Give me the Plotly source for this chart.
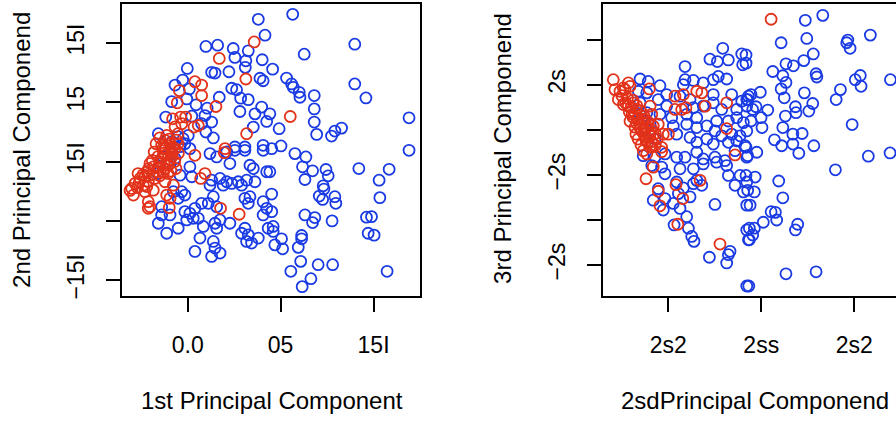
import plotly.graph_objects as go

# ---- Panel 1: 1st vs 2nd principal component ----
left_blue_x = [0.380, 0.416, 0.098, 0.161, 0.245, 0.326, 0.254, 0.313, 0.401, -0.002, 0.129, 0.147, 0.222, 0.310,
               0.389, 0.406, -0.027, -0.068, 0.009, 0.237, 0.263, 0.285, 0.326, 0.170, -0.086, -0.005, 0.045, 0.105,
               0.093, 0.022, 0.281, 0.362, 0.398, 0.425, -0.118, 0.129, 0.075, 0.353, -0.158, 0.003, 0.098, 0.138,
               0.254, 0.308, 0.406, -0.024, -0.052, -0.015, -0.041, -0.084, 0.012, -0.133, -0.095, -0.160, -0.068,
               0.120, 0.156, 0.210, 0.254, 0.308, 0.406, 0.227, 0.335, 0.353, 0.425, 0.012, -0.041, 0.022, 0.129,
               0.174, 0.210, 0.272, 0.317, 0.362, 0.120, 0.191, 0.237, 0.290, -0.032, -0.015, -0.051, -0.077, 0.138,
               0.111, 0.156, 0.075, 0.308, 0.335, 0.326, 0.406, 0.425, 0.406, 0.433, -0.140, -0.140, -0.095, -0.158,
               -0.113, -0.051, -0.015, 0.012, 0.039, 0.057, -0.005, 0.030, 0.084, 0.147, 0.174, 0.227, 0.156, 0.066,
               0.039, 0.138, 0.147, 0.174, 0.129, 0.308, 0.326, 0.380, 0.344, 0.317, 0.290,
               0.565, 0.899, 0.627, 0.457, 0.532, 0.559, 0.568, 0.600, 0.604, 0.681, 0.899, 0.959, 0.681, 0.681,
               0.694, 0.442, 0.492, 0.774, 0.792, 0.828, 1.191, 1.191, 0.502, 0.452, 0.577, 0.636, 0.618, 0.672,
               0.631, 0.744, 0.756, 0.729, 0.733, 0.708, 0.726, 0.792, 0.797, 0.921, 1.084, 1.030, 1.034, 0.442,
               0.452, 0.631, 0.684, 0.672, 0.777, 0.962, 0.989, 0.971, 1.003, 0.452, 0.460, 0.460, 0.505, 0.469,
               0.511, 0.613, 0.613, 0.595, 0.608, 0.555, 0.702, 0.780, 0.663, 0.616, 1.073]
left_blue_y = [1.199, 1.065, 0.970, 0.981, 0.953, 0.933, 0.878, 0.849, 0.858, 0.785, 0.752, 0.746, 0.757, 0.794,
               0.702, 0.681, 0.687, 0.645, 0.612, 0.618, 0.606, 0.534, 0.522, 0.542, 0.505, 0.528, 0.478, 0.450,
               0.388, 0.383, 0.422, 0.402, 0.459, 0.338, 0.375, 0.333, 0.319, 0.291, 0.235, 0.220, 0.249, 0.199,
               0.123, 0.123, 0.137, 0.193, 0.210, 0.151, 0.126, 0.168, 0.109, 0.042, -0.017, -0.101, 0.025,
               0.067, 0.039, 0.081, 0.095, 0.095, 0.095, -0.017, -0.031, -0.059, -0.086, -0.044, -0.115, -0.128,
               -0.157, -0.142, -0.170, -0.170, -0.157, -0.170, -0.199, -0.199, -0.184, -0.199, -0.254, -0.282,
               -0.310, -0.254, -0.296, -0.352, -0.380, -0.352, -0.310, -0.296, -0.352, -0.338, -0.394, -0.450,
               -0.562, -0.380, -0.450, -0.450, -0.520, -0.604, -0.562, -0.422, -0.436, -0.394, -0.478, -0.492,
               -0.478, -0.547, -0.520, -0.492, -0.520, -0.562, -0.645, -0.757, -0.673, -0.729, -0.771, -0.799,
               -0.562, -0.618, -0.645, -0.687, -0.673, -0.604,
               1.241, 0.989, 0.905, 0.779, 0.704, 0.654, 0.626, 0.584, 0.542, 0.556, 0.654, 0.536, 0.444, 0.333,
               0.229, 0.402, 0.277, 0.215, 0.257, 0.282, 0.369, 0.095, 0.132, 0.109, 0.067, 0.039, -0.044, -0.078,
               -0.151, -0.067, -0.120, -0.204, -0.232, -0.291, -0.319, -0.296, -0.352, -0.059, -0.065, -0.157,
               -0.304, -0.086, -0.274, -0.450, -0.472, -0.514, -0.500, -0.469, -0.464, -0.604, -0.620, -0.422,
               -0.547, -0.589, -0.651, -0.702, -0.735, -0.623, -0.651, -0.723, -0.841, -0.925, -0.869, -0.869,
               -0.987, -1.054, -0.925]

left_red_x = [0.358, 0.170, 0.313, 0.039, 0.075, -0.045, 0.075, -0.056, 0.152, -0.081, -0.038, -0.011, -0.032,
              0.034, 0.057, 0.317, -0.113, -0.122, -0.095, -0.140, 0.201, 0.039, 0.197, 0.093, 0.070, -0.122,
              -0.095, -0.149, -0.185, -0.122, -0.167, -0.104, -0.140, -0.086, -0.220, -0.256, -0.283, -0.301,
              -0.239, -0.212, -0.292, -0.230, -0.185, -0.122, -0.077, -0.113, -0.095, -0.212, -0.212, -0.203,
              -0.099, 0.177, 0.277, -0.068, -0.052, -0.084, -0.160, -0.133, -0.203, -0.230, -0.176, -0.267,
              -0.310, -0.106, -0.063, -0.052, -0.068, 0.552,
              -0.150, -0.100, -0.060, -0.170, -0.120, -0.080, -0.180, -0.130, -0.090, -0.050, -0.190, -0.150,
              -0.110, -0.070, -0.210, -0.160, -0.130, -0.090, -0.240, -0.190, -0.150, -0.260, -0.220, -0.270]
left_red_y = [1.008, 0.869, 0.696, 0.673, 0.645, 0.598, 0.556, 0.495, 0.464, 0.360, 0.375, 0.375, 0.319, 0.291,
              0.304, 0.235, 0.220, 0.179, 0.151, 0.137, 0.109, 0.053, 0.075, -0.101, -0.142, 0.053, 0.011,
              -0.017, -0.044, -0.059, -0.086, -0.031, 0.025, 0.081, -0.086, -0.142, -0.184, -0.226, -0.199,
              -0.170, -0.282, -0.254, -0.241, -0.170, -0.199, -0.282, -0.310, -0.338, -0.394, -0.380, -0.388,
              -0.394, -0.444, 0.109, 0.151, 0.042, 0.042, 0.109, -0.017, -0.126, -0.142, -0.101, -0.243, -0.101,
              -0.059, 0.235, 0.293, 0.380,
              0.200, 0.190, 0.180, 0.150, 0.120, 0.120, 0.080, 0.070, 0.060, 0.070, 0.010, 0.000,
              -0.010, 0.000, -0.060, -0.050, -0.090, -0.080, -0.110, -0.110, -0.120, -0.170, -0.210, -0.220]

# ---- Panel 2: 2nd vs 3rd principal component ----
right_blue_x = [0.293, 0.224, 0.264, 0.323, 0.395, 0.400, 0.090, -0.152, -0.108, -0.045, 0.090, 0.081, 0.135,
                0.188, 0.242, 0.269, 0.314, -0.161, -0.116, -0.009, 0.063, 0.117, 0.242, 0.341, 0.422, 0.431,
                -0.152, -0.054, -0.009, 0.135, 0.188, 0.242, 0.287, 0.368, 0.395, 0.422, -0.116, -0.045, 0.018,
                0.099, 0.153, 0.260, 0.323, 0.368, 0.404, 0.027, 0.099, 0.153, 0.207, 0.251, 0.287, 0.341, 0.386,
                0.422, 0.045, 0.117, 0.153, 0.207, 0.242, 0.323, 0.368, 0.413, -0.152, -0.098, -0.072, -0.125,
                -0.135, -0.072, -0.018, 0.045, 0.090, 0.153, 0.188, 0.251, 0.305, 0.359, 0.422, -0.089, -0.036,
                -0.018, 0.063, 0.135, 0.188, 0.260, 0.314, 0.323, 0.386, 0.422, 0.045, 0.081, 0.135, 0.180, 0.153,
                0.359, 0.404, -0.054, -0.081, -0.018, -0.027, 0.027, 0.063, 0.117, 0.054, 0.251, 0.422, 0.099,
                0.031, 0.108, 0.126, 0.138, 0.221, 0.323, 0.332, 0.314, 0.422, 0.431, 0.422,
                0.737, 0.831, 0.607, 0.745, 0.966, 0.960, 0.978, 1.087, 0.418, 0.418, 0.633, 0.673, 0.729, 0.780,
                0.562, 0.616, 0.633, 0.607, 0.624, 0.795, 0.799, 0.732, 0.777, 0.756, 1.006, 1.033, 1.037, 1.195,
                0.926, 0.903, 0.445, 0.495, 0.427, 0.454, 0.472, 0.535, 0.684, 0.687, 0.630, 0.445, 0.499, 0.504,
                0.989, 0.616, 0.571, 0.610, 0.670, 0.670, 0.720, 0.702, 0.783, 0.418, 0.427, 0.476, 1.076, 1.193,
                0.899, 0.418, 0.467, 0.427, 0.463, 0.440, 0.594, 0.616, 0.553, 0.576, 0.583, 0.511, 0.696, 0.684,
                0.436, 0.463, 0.454, 0.436, 0.633, 0.795, 0.433]
right_blue_y = [0.905, 0.785, 0.758, 0.777, 0.843, 0.722, 0.703, 0.565, 0.538, 0.491, 0.557, 0.502, 0.549,
                0.521, 0.557, 0.593, 0.565, 0.429, 0.411, 0.392, 0.374, 0.337, 0.392, 0.392, 0.337, 0.374, 0.301,
                0.337, 0.264, 0.246, 0.264, 0.301, 0.227, 0.227, 0.319, 0.264, 0.191, 0.173, 0.136, 0.173, 0.136,
                0.099, 0.099, 0.136, 0.081, 0.044, 0.063, 0.026, 0.044, -0.011, -0.066, -0.047, -0.066, -0.011,
                -0.047, -0.084, -0.138, -0.102, -0.157, -0.138, -0.121, -0.176, 0.173, 0.063, -0.102, 0.008,
                -0.286, -0.303, -0.267, -0.303, -0.303, -0.248, -0.322, -0.303, -0.341, -0.231, -0.303, -0.396,
                -0.413, -0.487, -0.432, -0.432, -0.377, -0.358, -0.396, -0.505, -0.505, -0.578, -0.578, -0.644,
                -0.597, -0.615, -0.560, -0.615, -0.688, -0.652, -0.780, -0.762, -0.890, -0.816, -0.871, -0.743,
                -0.707, -0.827, -0.835, -0.963, -1.055, -1.091, -1.182, -1.237, -1.413, -1.385, -1.347, -1.476,
                -1.110, -1.220, -1.732,
                1.216, 1.271, 0.967, 1.015, 0.997, 0.967, 0.905, 1.052, 0.832, 0.741, 0.733, 0.711, 0.769, 0.843,
                0.648, 0.601, 0.527, 0.455, 0.356, 0.623, 0.587, 0.411, 0.293, 0.209, 0.557, 0.604, 0.484, 0.557,
                0.447, 0.337, 0.392, 0.418, 0.337, 0.227, 0.257, 0.220, 0.257, 0.191, 0.154, 0.099, 0.136, 0.026,
                0.059, 0.026, -0.110, -0.176, -0.157, -0.047, -0.040, -0.259, -0.176, -0.193, -0.286, -0.248,
                -0.292, -0.256, -0.443, -0.505, -0.523, -0.670, -0.688, -0.835, -0.567, -0.754, -0.908, -0.915,
                -1.000, -1.025, -1.047, -1.110, -1.091, -1.091, -1.165, -1.220, -1.597, -1.575, -1.732]

right_red_x = [-0.296, -0.215, -0.206, -0.242, -0.260, -0.233, -0.287, -0.102, 0.036, 0.081, 0.153, 0.180,
               0.198, 0.314, 0.314, 0.036, 0.072, 0.095, -0.269, -0.242, -0.215, -0.188, -0.170, -0.098, -0.089,
               -0.081, -0.054, -0.195, -0.168, -0.152, -0.179, -0.142, -0.125, -0.109, -0.163, -0.098, -0.131,
               -0.206, -0.147, -0.088, -0.174, -0.114, -0.027, 0.000, -0.036, -0.135, -0.116, -0.036, -0.081,
               -0.120, -0.054, 0.041, 0.171, 0.078, -0.045, 0.051, 0.359, 0.278, 0.553,
               -0.250, -0.220, -0.190, -0.230, -0.200, -0.170, -0.210, -0.180, -0.150, -0.190, -0.160, -0.130,
               -0.170, -0.140, -0.110, -0.150, -0.120, -0.090, -0.130, -0.100, -0.070, -0.120, -0.090, -0.060,
               -0.100, -0.070]
right_red_y = [0.557, 0.521, 0.484, 0.466, 0.429, 0.447, 0.447, 0.455, 0.374, 0.392, 0.429, 0.411, 0.264,
               0.301, 0.015, 0.227, 0.227, 0.246, 0.337, 0.282, 0.264, 0.301, 0.227, 0.264, 0.173, 0.044, 0.063,
               0.173, 0.118, 0.063, 0.030, -0.014, -0.080, -0.135, -0.102, -0.047, 0.118, 0.096, -0.168, -0.190,
               -0.047, 0.030, -0.047, -0.047, -0.193, -0.231, -0.267, -0.242, -0.413, -0.542, -0.681, -0.608,
               -0.560, -0.762, -0.842, -1.047, -0.278, -1.267, 1.228,
               0.380, 0.350, 0.330, 0.300, 0.250, 0.270, 0.200, 0.190, 0.210, 0.140, 0.130, 0.150,
               0.070, 0.080, 0.090, 0.010, 0.020, 0.010, -0.050, -0.060, -0.040, -0.120, -0.130, -0.100,
               -0.190, -0.170]

left_x_ticks = [0.0, 0.5, 1.0]
left_x_labels = ["0.0", "05", "15I"]
left_y_ticks = [1.0, 0.5, 0.0, -0.5, -1.0]
left_y_labels = ["15I", "15", "15I", "", "\u221215I"]
right_x_ticks = [0.0, 0.5, 1.0]
right_x_labels = ["2s2", "2ss", "2s2"]
right_y_ticks = [1.0, 0.5, 0.0, -0.5, -1.0, -1.5]
right_y_labels = ["", "2s", "", "\u22122s", "", "\u22122s"]

BLUE = "#1a3be4"
RED = "#e3321a"
FONT = "Liberation Sans, Arial, Helvetica, sans-serif"
W, H = 896, 423


def marker(color):
    return dict(symbol="circle-open", size=11, color=color, line=dict(width=1.8, color=color))


fig = go.Figure()
fig.add_trace(go.Scatter(x=left_blue_x, y=left_blue_y, mode="markers", marker=marker(BLUE),
                         xaxis="x", yaxis="y", showlegend=False))
fig.add_trace(go.Scatter(x=left_red_x, y=left_red_y, mode="markers", marker=marker(RED),
                         xaxis="x", yaxis="y", showlegend=False))
fig.add_trace(go.Scatter(x=right_blue_x, y=right_blue_y, mode="markers", marker=marker(BLUE),
                         xaxis="x2", yaxis="y2", showlegend=False))
fig.add_trace(go.Scatter(x=right_red_x, y=right_red_y, mode="markers", marker=marker(RED),
                         xaxis="x2", yaxis="y2", showlegend=False))

# plot frames (pixels)
L1, R1 = 121.7, 420.0
L2, R2 = 602.7, 896.0
TOP, BOT = 4.5, 298.0

axis_common = dict(showgrid=False, zeroline=False, showline=True, linecolor="black", linewidth=1.5,
                   ticks="outside", ticklen=14, tickwidth=1.5, tickcolor="black",
                   tickfont=dict(family=FONT, size=23, color="black"))

fig.update_layout(
    width=W, height=H,
    margin=dict(l=0, r=0, t=0, b=0),
    paper_bgcolor="white", plot_bgcolor="white",
    font=dict(family=FONT, size=23, color="black"),
    xaxis=dict(domain=[L1 / W, R1 / W], range=[-0.355, 1.250], tickvals=left_x_ticks,
               ticktext=left_x_labels, mirror=True, anchor="y", ticklabelstandoff=14, **axis_common),
    yaxis=dict(domain=[1 - BOT / H, 1 - TOP / H], range=[-1.132, 1.324], tickvals=left_y_ticks,
               ticktext=left_y_labels, mirror=True, anchor="x", tickangle=-90, ticklabelstandoff=13,
               **axis_common),
    xaxis2=dict(domain=[L2 / W, 1.0], range=[-0.353, 1.225], tickvals=right_x_ticks,
                ticktext=right_x_labels, mirror=True, anchor="y2", ticklabelstandoff=14, **axis_common),
    yaxis2=dict(domain=[1 - BOT / H, 1 - TOP / H], range=[-1.842, 1.392], tickvals=right_y_ticks,
                ticktext=right_y_labels, mirror=False, anchor="x2", tickangle=-90, ticklabelstandoff=13,
                **axis_common),
)

# axis titles
titles = [
    ("1st Principal Component", 271.5 / W, 1 - 403 / H, 0),
    ("2nd Principal Componend", 22 / W, 1 - 151 / H, -90),
    ("2sdPrincipal Componend", 755 / W, 1 - 403 / H, 0),
    ("3rd Principal Componend", 503 / W, 1 - 150 / H, -90),
]
for text, x, y, ang in titles:
    fig.add_annotation(text=text, x=x, y=y, xref="paper", yref="paper", showarrow=False,
                       textangle=ang, xanchor="center", yanchor="middle",
                       font=dict(family=FONT, size=24, color="black"))

fig.write_html("out.html")
